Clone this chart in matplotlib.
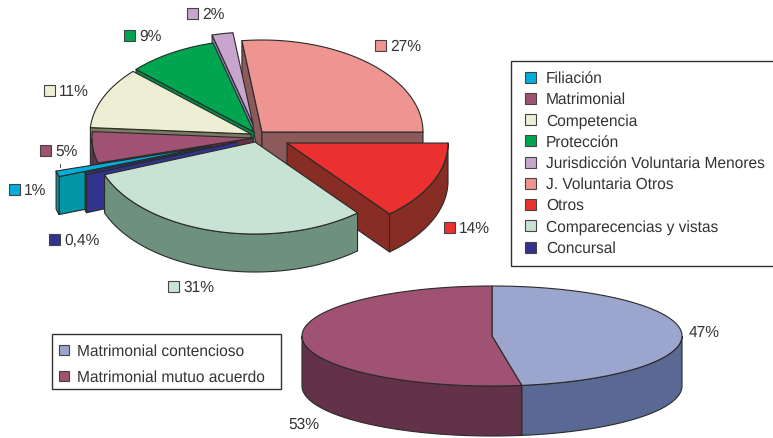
import numpy as np
import matplotlib.pyplot as plt
from matplotlib.patches import Polygon, Rectangle

plt.rcParams['font.family'] = ['Liberation Sans', 'DejaVu Sans']
plt.rcParams['text.hinting'] = 'no_hinting'

# Pie de arriba
categorias = ['Filiación', 'Matrimonial', 'Competencia', 'Protección', 'Jurisdicción Voluntaria Menores',
              'J. Voluntaria Otros', 'Otros', 'Comparecencias y vistas', 'Concursal']
valores = [1.0, 5.5, 10.8, 9.0, 2.1, 27.0, 14.0, 30.2, 0.4]
etiquetas = ['1%', '5%', '11%', '9%', '2%', '27%', '14%', '31%', '0,4%']
colores = ['#00AEDC', '#A05273', '#EEEED4', '#00A550', '#C8A5CD', '#EE9491', '#EB3030', '#C8E3D4', '#32328F']
oscuros = ['#0096A5', '#643248', '#7A7A5E', '#008C46', '#8C82B4', '#8C5A5A', '#872D23', '#6E917D', '#32328F']

# Pie de abajo
categorias2 = ['Matrimonial contencioso', 'Matrimonial mutuo acuerdo']
valores2 = [47.5, 52.5]
etiquetas2 = ['47%', '53%']
colores2 = ['#9BA5CD', '#A05273']
oscuros2 = ['#5A6994', '#643248']

# Separacion de cada porcion respecto al centro, en pixeles
separa_x = [-42, 0, -2, 1, 0, 9, 34, 2, -16]
separa_y = [9, 1, -3, -5, -13, -5, 6, 5, 5]
orden = [5, 4, 3, 2, 1, 0, 8, 6, 7]

BORDE = '#2a2a2a'
TEXTO = '#333333'
LETRA = 11.2

fig = plt.figure(figsize=(7.73, 4.39), dpi=100)
ax = fig.add_axes([0, 0, 1, 1])
ax.set_xlim(0, 773)
ax.set_ylim(439, 0)
ax.axis('off')


def poly(puntos, color, z, lw=0.8):
    ax.add_patch(Polygon(puntos, closed=True, facecolor=color, edgecolor=BORDE, linewidth=lw, joinstyle='round', zorder=z))


def porcion(cx, cy, rx, ry, alto, t1, t2, color, oscuro, z):
    th = np.radians(np.linspace(t1, t2, 200))
    borde = np.column_stack([cx + rx*np.sin(th), cy - ry*np.cos(th)])
    centro = np.array([cx, cy])
    baja = np.array([0, alto])
    # caras radiales que miran hacia adelante
    if np.sin(th[0]) < 0:
        poly([centro, borde[0], borde[0] + baja, centro + baja], oscuro, z)
    if np.sin(th[-1]) > 0:
        poly([centro, borde[-1], borde[-1] + baja, centro + baja], oscuro, z)
    # pared exterior, solo la mitad de adelante
    frente = borde[np.cos(th) <= 0]
    if len(frente) > 1:
        poly(np.vstack([frente, (frente + baja)[::-1]]), oscuro, z)
    poly(np.vstack([centro, borde]), color, z)


def caja_color(x, y, color, lado=11):
    ax.add_patch(Rectangle((x, y - lado/2), lado, lado, facecolor=color, edgecolor='#444444', linewidth=0.8, zorder=20))


def texto(x, y, t):
    ax.text(x, y + 0.7, t, fontsize=LETRA, color=TEXTO, va='center', ha='left', zorder=20)


# Pie de arriba: angulos en sentido horario desde arriba
inicio = 250.6
angulos = inicio + np.concatenate([[0], np.cumsum(valores)])*3.6
for i, k in enumerate(orden):
    porcion(253 + separa_x[k], 138 + separa_y[k], 161, 92, 38, angulos[k], angulos[k+1], colores[k], oscuros[k], 2 + i*0.1)

ax.plot([60, 60], [165, 168], color=BORDE, lw=0.6, zorder=1)

# Etiquetas con su cuadrito
lab_x = [9, 40, 44, 124, 187, 375, 444, 168, 49]
lab_y = [190, 151, 91, 36, 14, 46, 228, 287, 240]
for x, y, c, t in zip(lab_x, lab_y, colores, etiquetas):
    caja_color(x, y, c)
    texto(x + 15, y, t)

# Leyenda de arriba
ax.add_patch(Rectangle((511, 62), 264, 205, facecolor='white', edgecolor='#333333', linewidth=1, zorder=10))
for i, (c, t) in enumerate(zip(colores, categorias)):
    y = 78 + i*21.25
    caja_color(525, y, c)
    texto(546, y, t)

# Pie de abajo
angulos2 = np.concatenate([[0], np.cumsum(valores2)])*3.6
for i in [1, 0]:
    porcion(492, 337, 190, 50, 50, angulos2[i], angulos2[i+1], colores2[i], oscuros2[i], 3 + i*0.1)
texto(689, 332, etiquetas2[0])
texto(288, 424, etiquetas2[1])

# Leyenda de abajo
ax.add_patch(Rectangle((52, 335), 229, 55, facecolor='white', edgecolor='#333333', linewidth=1, zorder=10))
for y, c, t in zip([351, 377], colores2, categorias2):
    caja_color(59, y, c, lado=10)
    texto(77, y, t)

fig.savefig('out.png', dpi=100)
